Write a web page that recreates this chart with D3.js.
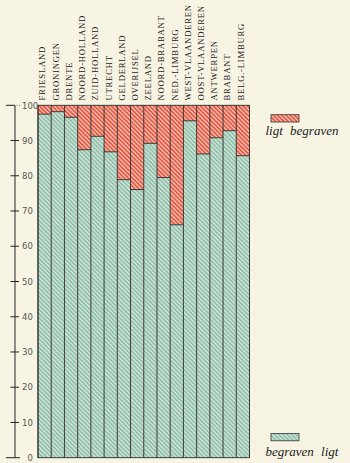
<!DOCTYPE html>
<html><head><meta charset="utf-8">
<script src="https://cdn.jsdelivr.net/npm/d3@7"></script>
<style>
html,body{margin:0;padding:0;background:#f8f4e4;}
svg{display:block;}
</style></head>
<body>
<script>
const categories = ["FRIESLAND","GRONINGEN","DRENTE","NOORD-HOLLAND","ZUID-HOLLAND","UTRECHT","GELDERLAND","OVERIJSEL","ZEELAND","NOORD-BRABANT","NED.-LIMBURG","WEST-VLAANDEREN","OOST-VLAANDEREN","ANTWERPEN","BRABANT","BELG.-LIMBURG"];
const begravenLigt = [97.5,98.2,96.6,87.4,91.2,86.8,78.9,76.1,89.2,79.5,66.1,95.6,86.2,90.8,92.8,85.7];
const ligtBegraven = begravenLigt.map(v => 100 - v);
const yTicks = [0,10,20,30,40,50,60,70,80,90,100];
const seriesNames = ["begraven ligt","ligt begraven"];

const W = 350, H = 463;
const svg = d3.select("body").append("svg").attr("width", W).attr("height", H);
svg.append("rect").attr("width", W).attr("height", H).attr("fill", "#f8f4e4");

const defs = svg.append("defs");
function hatch(id, base, stripe){
  const p = defs.append("pattern").attr("id", id).attr("patternUnits","userSpaceOnUse")
    .attr("width", 3).attr("height", 3).attr("patternTransform","rotate(-45)");
  p.append("rect").attr("width",3).attr("height",3).attr("fill", stripe);
  p.append("rect").attr("width",1.7).attr("height",3).attr("fill", base);
}
hatch("hg", "#86bca6", "#e0ebdf");
hatch("hr", "#e64a35", "#f7d6c8");

const x = d3.scaleBand().domain(categories).range([38, 249.5]).padding(0);
const y = d3.scaleLinear().domain([0,100]).range([457.7, 105.3]);

const g = svg.append("g");
categories.forEach((c,i) => {
  g.append("rect").attr("x", x(c)).attr("width", x.bandwidth())
    .attr("y", y(100)).attr("height", y(100 - ligtBegraven[i]) - y(100))
    .attr("fill","url(#hr)");
  g.append("rect").attr("x", x(c)).attr("width", x.bandwidth())
    .attr("y", y(begravenLigt[i])).attr("height", y(0) - y(begravenLigt[i]))
    .attr("fill","url(#hg)");
  g.append("line").attr("x1", x(c)).attr("x2", x(c)+x.bandwidth())
    .attr("y1", y(begravenLigt[i])).attr("y2", y(begravenLigt[i]))
    .attr("stroke","#2a2a2a").attr("stroke-width",0.9);
});
categories.forEach(c => {
  g.append("line").attr("x1", x(c)).attr("x2", x(c)).attr("y1", y(100)).attr("y2", y(0))
    .attr("stroke","#2a2a2a").attr("stroke-width",0.9);
});
g.append("rect").attr("x", 38).attr("y", y(100)).attr("width", 249.5-38).attr("height", y(0)-y(100))
  .attr("fill","none").attr("stroke","#2a2a2a").attr("stroke-width",0.9);

// category labels
svg.append("g").selectAll("text").data(categories).join("text")
  .attr("transform", d => `translate(${x(d)+x.bandwidth()/2+0.8},100.5) rotate(-90)`)
  .attr("font-family","Liberation Serif, serif").attr("font-size", 8.7)
  .attr("letter-spacing", 0.75).attr("fill","#1a1a1a")
  .text(d => d);

// axis
const axis = svg.append("g");
axis.append("line").attr("x1",15).attr("x2",15).attr("y1",y(100)).attr("y2",y(0))
  .attr("stroke","#222").attr("stroke-width",1);
yTicks.forEach(t => {
  let x1 = 10.5, x2 = 19;
  if (t === 100) { x1 = 6; x2 = 15; }
  if (t === 0) { x1 = 6; x2 = 20; }
  axis.append("line").attr("x1",x1).attr("x2",x2).attr("y1",y(t)).attr("y2",y(t))
    .attr("stroke","#222").attr("stroke-width",1);
  axis.append("text").attr("x", t===0 ? 27.5 : 22).attr("y", y(t)+3.2)
    .attr("font-family","DejaVu Sans, sans-serif").attr("font-size",8.5).attr("fill","#555")
    .text(t);
});
axis.append("line").attr("x1",16.5).attr("x2",21).attr("y1",y(100)).attr("y2",y(100))
  .attr("stroke","#666").attr("stroke-width",0.8).attr("stroke-dasharray","1,1.5");

// legend
const leg = [
  {name: seriesNames[1], fill: "url(#hr)", by: 114.7, ty: 135.3},
  {name: seriesNames[0], fill: "url(#hg)", by: 433.5, ty: 456}
];
leg.forEach(l => {
  svg.append("rect").attr("x",271).attr("y",l.by).attr("width",28).attr("height",7.3)
    .attr("fill", l.fill).attr("stroke","#333").attr("stroke-width",0.8);
  svg.append("text").attr("x",265.5).attr("y",l.ty)
    .attr("font-family","Liberation Serif, serif").attr("font-style","italic")
    .attr("font-size",13).attr("word-spacing",4).attr("fill","#1a1a1a")
    .text(l.name);
});
</script>
</body></html>
